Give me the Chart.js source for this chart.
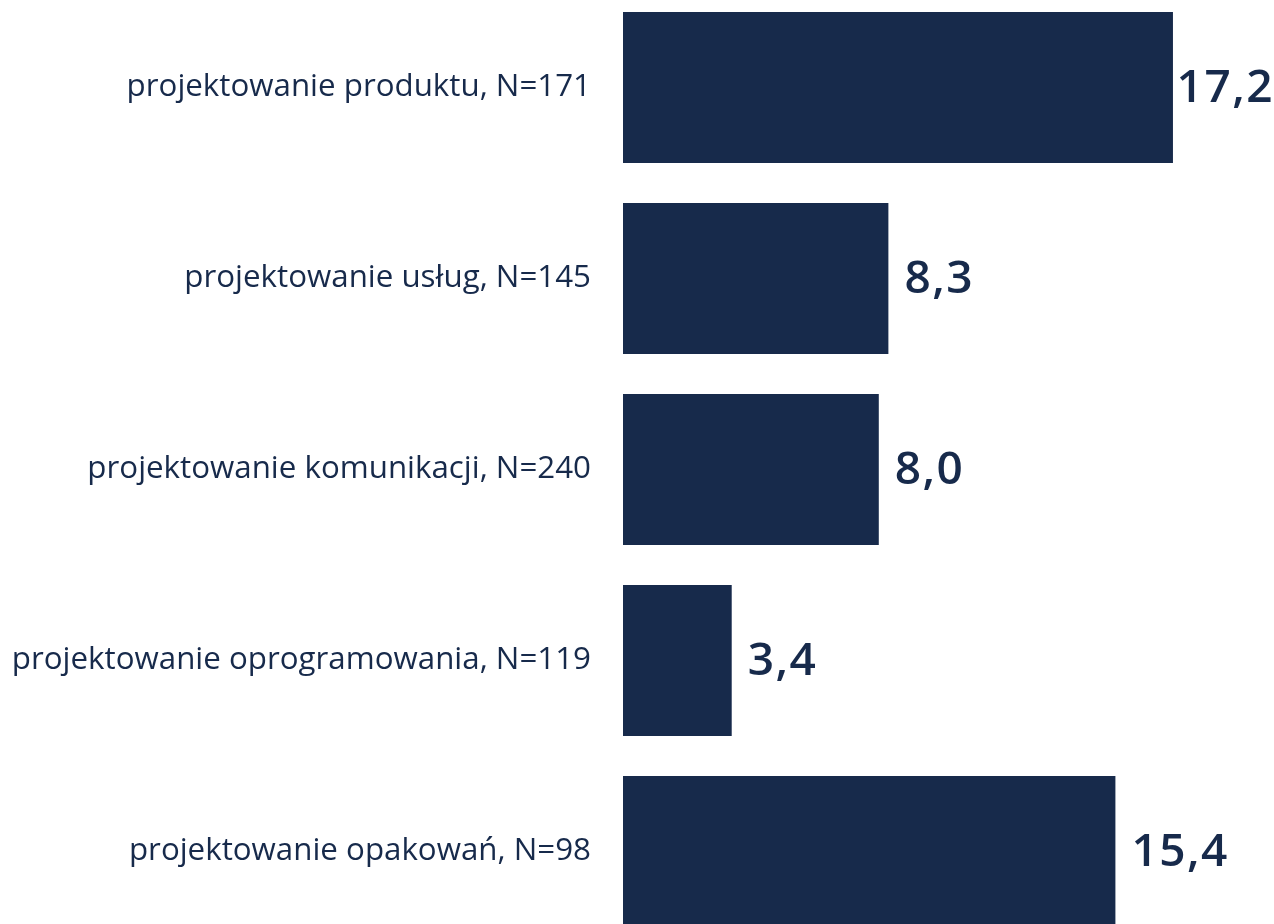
<!DOCTYPE html>
<html>
<head>
<meta charset="utf-8">
<script src="https://cdn.jsdelivr.net/npm/chart.js@4/dist/chart.umd.min.js"></script>
<style>
  html, body { margin: 0; padding: 0; background: #fff; overflow: hidden; }
  #graph { position: absolute; left: 0; top: -8px; }
</style>
</head>
<body>
<canvas id="graph" width="1274" height="955"></canvas>
<script>
const categories = [
  'projektowanie produktu, N=171',
  'projektowanie usług, N=145',
  'projektowanie komunikacji, N=240',
  'projektowanie oprogramowania, N=119',
  'projektowanie opakowań, N=98'
];
const values = [17.2, 8.3, 8.0, 3.4, 15.4];
const navy = '#172a4b';

// value labels at the end of each bar
const valueLabels = {
  id: 'valueLabels',
  afterDatasetsDraw(chart) {
    const ctx = chart.ctx;
    const meta = chart.getDatasetMeta(0);
    ctx.save();
    ctx.font = '600 46px "Open Sans"';
    ctx.letterSpacing = '1.5px';
    ctx.fillStyle = navy;
    ctx.textAlign = 'left';
    ctx.textBaseline = 'middle';
    meta.data.forEach(function(bar, i) {
      const txt = values[i].toFixed(1).replace('.', ',');
      const w = ctx.measureText(txt).width;
      let x = Math.min(bar.x + 16, chart.width - w);
      x = Math.max(x, bar.x + 3);
      ctx.fillText(txt, x, bar.y + 1);
    });
    ctx.restore();
  }
};

graph = document.getElementById('graph').getContext('2d');
new Chart(graph, {
  type: 'bar',
  data: {
    labels: categories,
    datasets: [{
      data: values,
      backgroundColor: navy,
      barPercentage: 0.79,
      categoryPercentage: 1
    }]
  },
  options: {
    indexAxis: 'y',
    responsive: false,
    animation: false,
    layout: { padding: 0 },
    plugins: { legend: { display: false }, tooltip: { enabled: false } },
    scales: {
      x: { display: false, min: 0, max: 20.36 },
      y: {
        grid: { display: false, drawTicks: false },
        border: { display: false },
        ticks: { color: navy, font: { family: 'Open Sans', size: 31.3 }, padding: 32 },
        afterFit: function(scale) {
          scale.width = 623;
          scale.paddingTop = 0;
          scale.paddingBottom = 0;
        }
      }
    }
  },
  plugins: [valueLabels]
});
</script>
</body>
</html>
